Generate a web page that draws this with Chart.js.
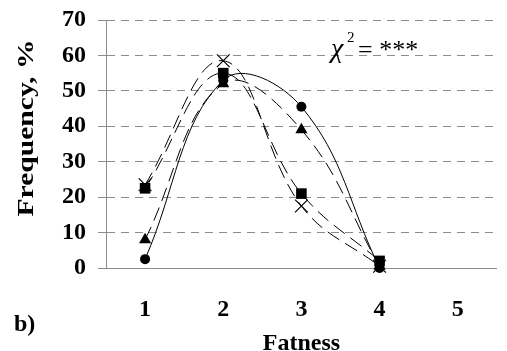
<!DOCTYPE html>
<html>
<head>
<meta charset="utf-8">
<script src="https://cdn.jsdelivr.net/npm/chart.js@4"></script>
<style>
  html, body { margin: 0; padding: 0; background: #fff; }
  #wrap { width: 507px; height: 351px; }
</style>
</head>
<body>
<div id="wrap"><canvas id="chart"></canvas></div>
<script>
// fatness classes
const categories = ['1', '2', '3', '4', '5'];
// frequency, %
const circleSeries = [2.5, 53, 45.5, 0, null];
const triangleSeries = [8, 52, 39, 0.5, null];
const squareSeries = [22.5, 55, 21, 2, null];
const crossSeries = [23.5, 58.5, 17.5, 0.5, null];
const yTicks = [0, 10, 20, 30, 40, 50, 60, 70];

const serif = "'Liberation Serif', 'Times New Roman', serif";
const axisGray = '#8c8c8c';

// extra text: y title, panel letter, chi-square note
const textPlugin = {
    id: 'extraText',
    afterDraw(chart) {
        const ctx = chart.ctx;
        ctx.save();
        ctx.fillStyle = '#000';

        // y axis title, stretched to the length it has in the figure
        ctx.font = 'bold 24px ' + serif;
        const label = 'Frequency, %';
        const w = ctx.measureText(label).width;
        ctx.translate(27, 128);
        ctx.rotate(-Math.PI / 2);
        ctx.scale(177 / w, 1);
        ctx.textAlign = 'center';
        ctx.textBaseline = 'middle';
        ctx.fillText(label, 0, 0);
        ctx.setTransform(1, 0, 0, 1, 0, 0);

        // panel letter
        ctx.textAlign = 'left';
        ctx.textBaseline = 'alphabetic';
        ctx.font = 'bold 24px ' + serif;
        ctx.fillText('b)', 14, 331);

        // chi square
        ctx.font = 'italic 28px ' + serif;
        ctx.fillText('\u03c7', 331, 57);
        ctx.font = '15px ' + serif;
        ctx.fillText('2', 347, 42);
        ctx.font = '26px ' + serif;
        ctx.fillText('= ***', 358, 58);
        ctx.restore();
    }
};

const line = (data, style, radius, dashed) => ({
    data: data,
    borderColor: '#000',
    backgroundColor: '#000',
    borderWidth: 1,
    borderDash: dashed ? [14, 7] : [],
    tension: 0.4,
    pointStyle: style,
    pointRadius: radius,
    pointHoverRadius: radius,
    pointBackgroundColor: '#000',
    pointBorderColor: '#000',
    pointBorderWidth: style === 'crossRot' ? 1.2 : 0,
    clip: false
});

new Chart(document.getElementById('chart'), {
    type: 'line',
    data: {
        labels: categories,
        datasets: [
            line(crossSeries, 'crossRot', 9, true),
            line(squareSeries, 'rect', 7.5, true),
            line(triangleSeries, 'triangle', 7, true),
            line(circleSeries, 'circle', 5, false)
        ]
    },
    options: {
        responsive: true,
        maintainAspectRatio: false,
        animation: false,
        layout: { padding: { left: 0, top: 20, right: 1, bottom: 0 } },
        plugins: {
            legend: { display: false },
            tooltip: { enabled: false }
        },
        scales: {
            x: {
                offset: true,
                grid: { display: true, drawOnChartArea: false, drawTicks: false },
                border: { display: true, color: axisGray, width: 1 },
                ticks: {
                    color: '#000',
                    font: { family: serif, size: 24, weight: 'bold' },
                    padding: 27
                },
                title: {
                    display: true,
                    text: 'Fatness',
                    color: '#000',
                    font: { family: serif, size: 24, weight: 'bold', lineHeight: 1 },
                    padding: { top: 0, bottom: -5 }
                },
                afterFit: (scale) => { scale.height = 83; }
            },
            y: {
                min: 0,
                max: 70,
                afterBuildTicks: (scale) => { scale.ticks = yTicks.map(v => ({ value: v })); },
                grid: {
                    color: axisGray,
                    lineWidth: 1,
                    tickLength: 8,
                    tickColor: axisGray
                },
                border: { display: true, color: axisGray, width: 1, dash: [8, 6] },
                ticks: {
                    color: '#000',
                    font: { family: serif, size: 24, weight: 'bold' },
                    padding: 12
                },
                afterFit: (scale) => {
                    scale.width = 106;
                    scale.paddingTop = 0;
                    scale.paddingBottom = 0;
                }
            }
        }
    },
    plugins: [textPlugin]
});
</script>
</body>
</html>
